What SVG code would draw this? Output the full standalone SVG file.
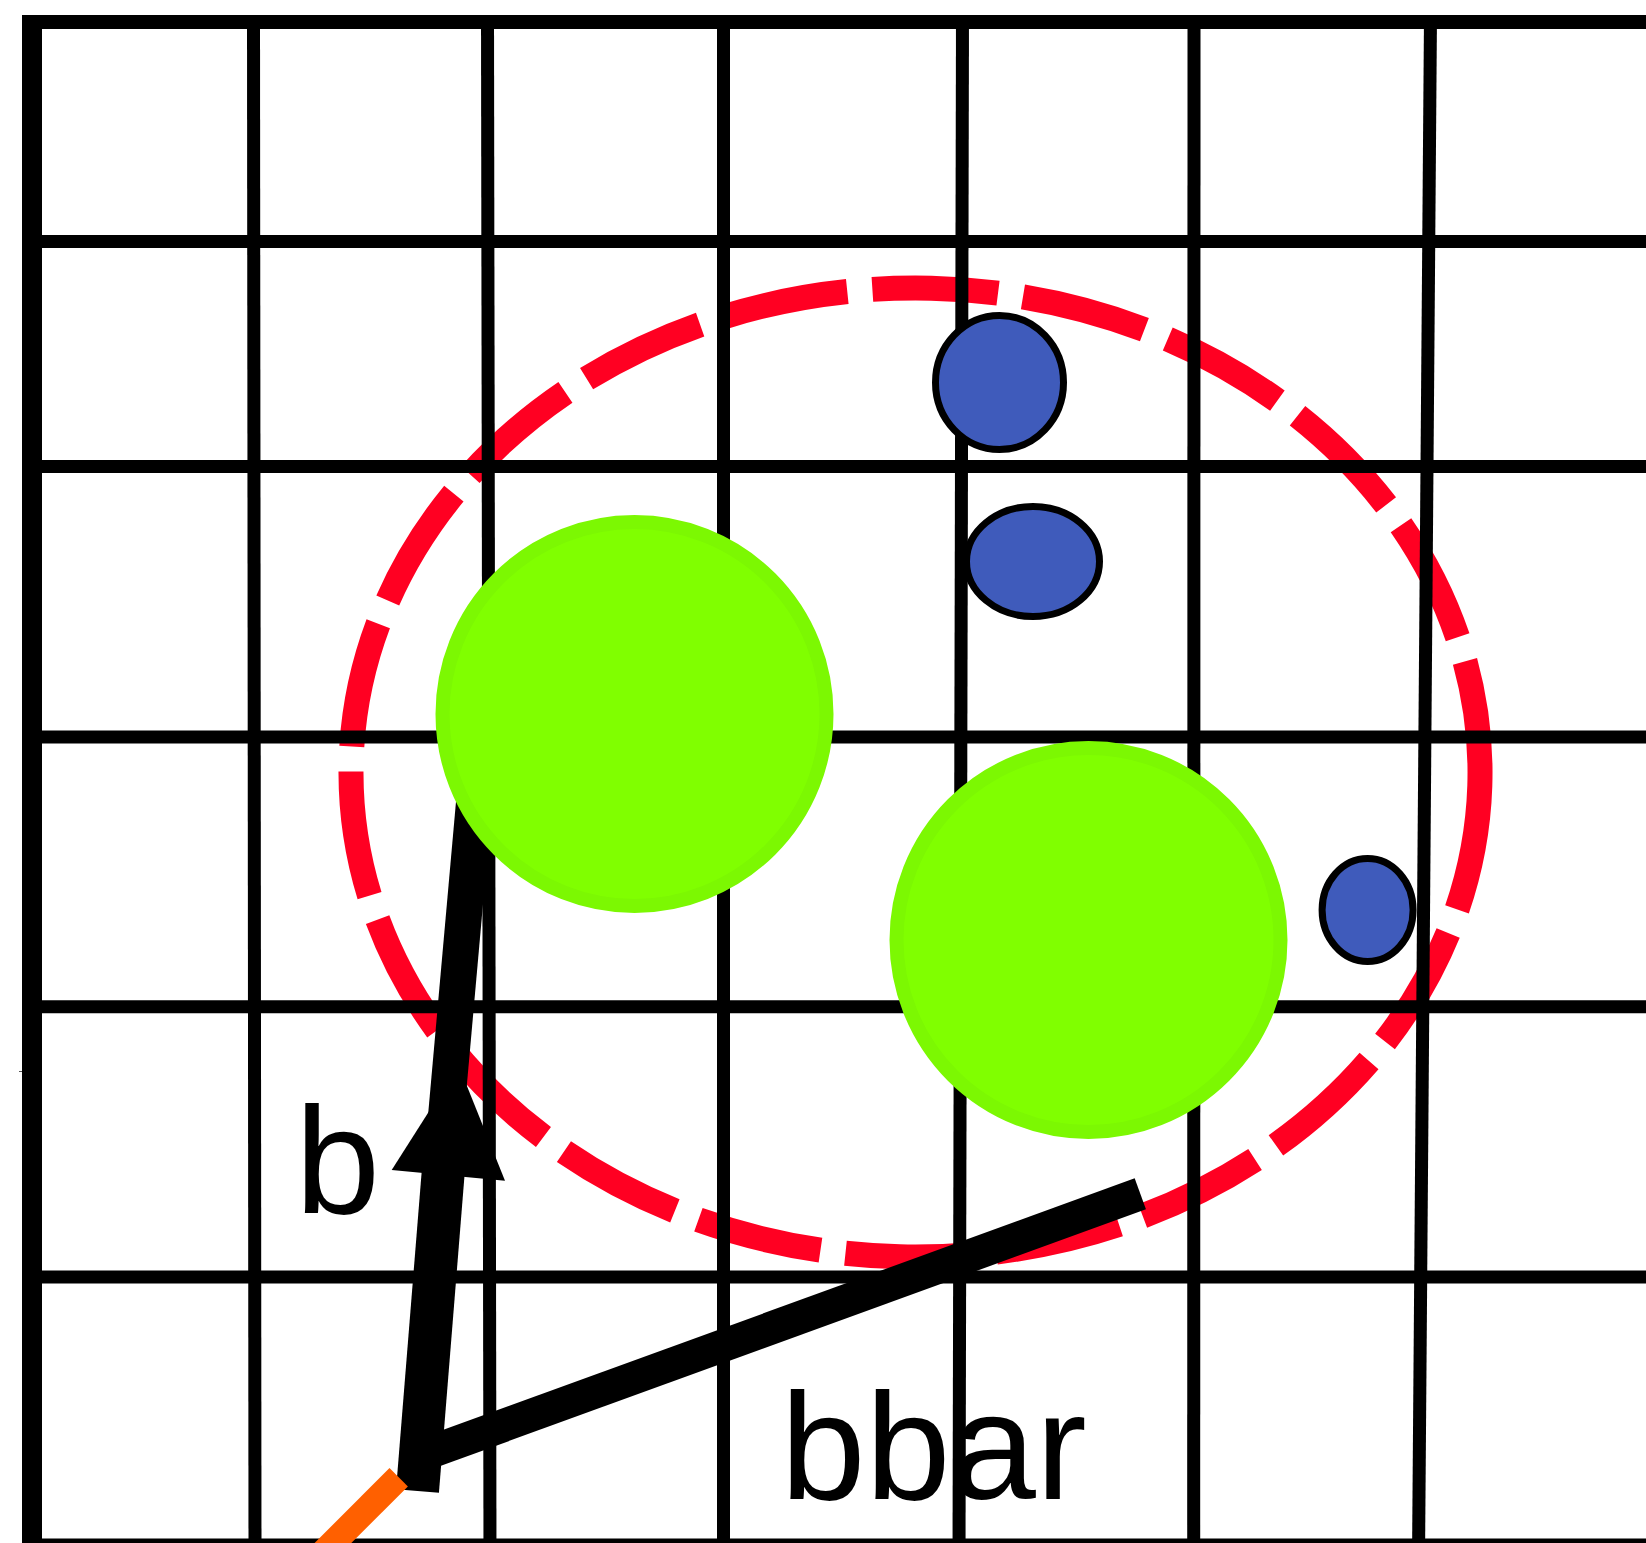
<svg xmlns="http://www.w3.org/2000/svg" width="1646" height="1543" viewBox="0 0 1646 1543">
  <style>
    .grid { stroke: #000000; stroke-width: 13; fill: none; }
    .ring { fill: none; stroke: #ff0022; stroke-width: 25; stroke-dasharray: 125 25; }
    .green { fill: #80ff00; stroke: #7cf802; stroke-width: 14; }
    .blue { fill: #3f5bbb; stroke: #000000; stroke-width: 7; }
    .label { font-family: "Liberation Sans", Arial, Helvetica, sans-serif; font-size: 153px; fill: #000000; }
  </style>
  <rect width="1646" height="1543" fill="#ffffff"/>

  <g id="ring">
    <path class="ring" pathLength="3275" d="M1479.8,786 A564.5,484.5 0 0 1 351.2,759 A564.5,484.5 0 0 1 1479.8,786 Z"/>
  </g>

  <g id="grid">
    <line class="grid" x1="22" y1="22" x2="1646" y2="22" style="stroke-width:14"/>
    <line class="grid" x1="22" y1="241.5" x2="1646" y2="241.5"/>
    <line class="grid" x1="22" y1="466.5" x2="1646" y2="466.5"/>
    <line class="grid" x1="22" y1="737" x2="1646" y2="737"/>
    <line class="grid" x1="22" y1="1006.7" x2="1646" y2="1006.7"/>
    <line class="grid" x1="22" y1="1277" x2="1646" y2="1277"/>
    <line class="grid" x1="22" y1="1545" x2="1646" y2="1545"/>
    <line class="grid" x1="32" y1="15" x2="32" y2="1560" style="stroke-width:20"/>
    <line class="grid" x1="253.5" y1="15" x2="255" y2="1560"/>
    <line class="grid" x1="487.5" y1="15" x2="490" y2="1560"/>
    <line class="grid" x1="723.5" y1="15" x2="723.5" y2="1560"/>
    <line class="grid" x1="962.5" y1="15" x2="959" y2="1560"/>
    <line class="grid" x1="1194" y1="15" x2="1193.7" y2="1560"/>
    <line class="grid" x1="1430.5" y1="15" x2="1418.5" y2="1560"/>
    <line x1="19" y1="1071.5" x2="22" y2="1071.5" stroke="#555555" stroke-width="1"/>
  </g>

  <g id="connectors">
    <line id="b-shaft-lower" x1="417.5" y1="1491" x2="445" y2="1150" stroke="#000000" stroke-width="43"/>
    <line id="b-shaft-upper" x1="443" y1="1150" x2="476" y2="780" stroke="#000000" stroke-width="36"/>
    <polygon id="b-head" points="391.7,1170 505,1180.7 458.5,1065" fill="#000000"/>
    <line id="bbar-line" x1="425" y1="1454" x2="1140.3" y2="1193.8" stroke="#000000" stroke-width="33"/>
    <line id="orange-line" x1="398.7" y1="1477.2" x2="300" y2="1576" stroke="#ff6000" stroke-width="26"/>
  </g>

  <g id="green1"><circle class="green" cx="634.5" cy="714" r="192"/></g>
  <g id="green2"><circle class="green" cx="1088.5" cy="940" r="192"/></g>

  <g id="blue1"><ellipse class="blue" cx="999.5" cy="382.5" rx="64" ry="67"/></g>
  <g id="blue2"><ellipse class="blue" cx="1033" cy="561.5" rx="66.5" ry="55"/></g>
  <g id="blue3"><ellipse class="blue" cx="1367.6" cy="910" rx="45.5" ry="51.5"/></g>

  <g id="labels">
    <text class="label" x="295" y="1213">b</text>
    <text class="label" x="780.5" y="1498.5">bbar</text>
  </g>
</svg>
